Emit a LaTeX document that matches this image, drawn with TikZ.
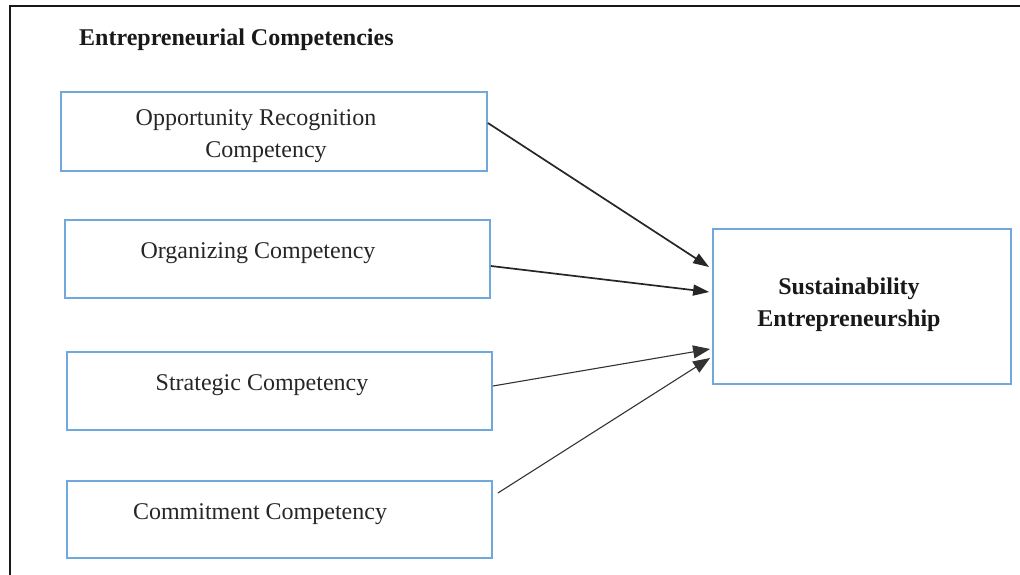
\documentclass[tikz,border=0pt]{standalone}
\usepackage{fontspec}
\setmainfont{Liberation Serif}
\usetikzlibrary{arrows.meta}
\definecolor{boxblue}{RGB}{111,168,220}
\tikzset{
  compbox/.style={draw=boxblue, line width=1.8pt, inner sep=0pt},
  lbl/.style={font=\fontsize{24}{32}\selectfont, text=black!85, inner sep=0pt, align=center},
  bold/.style={font=\fontsize{24}{32}\selectfont\bfseries, text=black!90, inner sep=0pt, align=center},
  thickarrow/.style={line width=1.7pt, draw=black!85, -{Triangle[length=16pt,width=11pt]}},
  thinarrow/.style={line width=1.1pt, draw=black!80, -{Triangle[length=17pt,width=13pt]}},
}
\begin{document}
\begin{tikzpicture}[x=1pt,y=-1pt]
\useasboundingbox (0,0) rectangle (1020,575);
% frame
\draw[line width=2pt, black!90] (10,575) -- (10,6) -- (1020,6);
% title
\node[bold, anchor=west] (title) at (79,39.5) {Entrepreneurial Competencies};
% boxes
\node[compbox, minimum width=426pt, minimum height=79pt] (b1) at (274,131.5) {};
\node[compbox, minimum width=425pt, minimum height=78pt] (b2) at (277.5,259) {};
\node[compbox, minimum width=425pt, minimum height=78pt] (b3) at (279.5,391) {};
\node[compbox, minimum width=425pt, minimum height=77pt] (b4) at (279.5,519.5) {};
\node[compbox, minimum width=298pt, minimum height=155pt] (se) at (862,306.5) {};
% texts
\node[lbl] (t1) at (256,136) {Opportunity Recognition\\\hspace*{20pt}Competency};
\node[lbl] (t2) at (258,253.5) {Organizing Competency};
\node[lbl] (t3) at (262,385.5) {Strategic Competency};
\node[lbl] (t4) at (260,514.5) {Commitment Competency};
\node[bold] (t5) at (849,305) {Sustainability\\Entrepreneurship};
% connector ends
\coordinate (s1) at (b1.east |- 0,123);
\coordinate (s2) at (b2.east |- 0,266);
\coordinate (s3) at (b3.east |- 0,386);
\coordinate (s4) at ([xshift=5pt]b4.east |- 0,493);
\coordinate (e1) at ([xshift=-3pt]se.west |- 0,267);
\coordinate (e2) at ([xshift=-3pt]se.west |- 0,292);
\coordinate (e3) at ([xshift=-2pt]se.west |- 0,349);
\coordinate (e4) at ([xshift=-2pt]se.west |- 0,358);
\draw[thickarrow] (s1) -- (e1);
\draw[thickarrow] (s2) -- (e2);
\draw[thinarrow] (s3) -- (e3);
\draw[thinarrow] (s4) -- (e4);
\end{tikzpicture}
\end{document}
